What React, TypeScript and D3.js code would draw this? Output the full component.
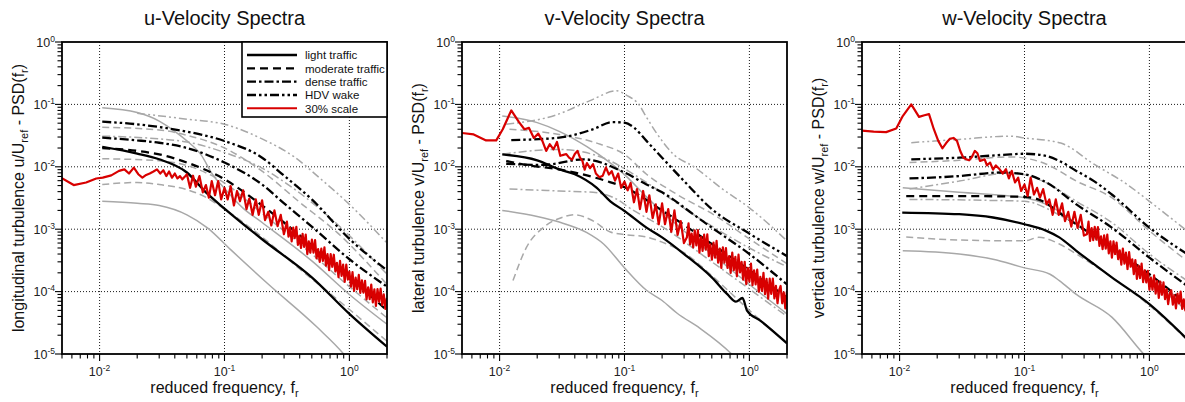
import React from 'react';
import * as d3 from 'd3';

type Pt = [number, number];

// ---------- text ----------
const panelTitles = ['u-Velocity Spectra', 'v-Velocity Spectra', 'w-Velocity Spectra'];
const yLabelPrefix = ['longitudinal turbulence u/U', 'lateral turbulence v/U', 'vertical turbulence w/U'];
const legendLabels = ['light traffic', 'moderate traffic', 'dense traffic', 'HDV wake', '30% scale'];
const xDomain: [number, number] = [0.005, 2];
const yDomain: [number, number] = [1e-5, 1];
const xMajorTicks = [0.01, 0.1, 1];
const xMajorExp = ['-2', '-1', '0'];
const yMajorTicks = [1e-5, 1e-4, 1e-3, 1e-2, 1e-1, 1];
const yMajorExp = ['-5', '-4', '-3', '-2', '-1', '0'];

// ---------- u panel ----------
const uLight: Pt[] = [[0.0105, 0.0208], [0.02, 0.0163], [0.03, 0.0132], [0.05, 0.0081], [0.07, 0.004], [0.1, 0.00214], [0.2, 0.00069], [0.5, 0.000169], [1, 0.000044], [2, 0.0000131]];
const uModerate: Pt[] = [[0.0105, 0.02], [0.02, 0.018], [0.03, 0.0158], [0.05, 0.0117], [0.1, 0.0063], [0.2, 0.0024], [0.5, 0.00055], [1, 0.00017], [2, 0.00005]];
const uDense: Pt[] = [[0.0105, 0.0293], [0.02, 0.0265], [0.03, 0.0243], [0.05, 0.02], [0.1, 0.0117], [0.2, 0.0052], [0.3, 0.0026], [0.5, 0.0011], [1, 0.00033], [2, 0.00012]];
const uHDV: Pt[] = [[0.0105, 0.0528], [0.02, 0.048], [0.03, 0.0434], [0.05, 0.0366], [0.1, 0.0259], [0.2, 0.014], [0.3, 0.0072], [0.5, 0.003], [1, 0.0007], [2, 0.00022]];
const uGreySolidA: Pt[] = [[0.0105, 0.088], [0.02, 0.074], [0.03, 0.054], [0.04, 0.037], [0.05, 0.026], [0.065, 0.0155], [0.08, 0.0076], [0.1, 0.0045], [0.14, 0.0022], [0.2, 0.00128], [0.5, 0.00031], [1, 0.00009], [2, 0.00003]];
const uGreySolidB: Pt[] = [[0.0105, 0.0028], [0.02, 0.0026], [0.03, 0.0024], [0.05, 0.0017], [0.073, 0.00105], [0.112, 0.00047], [0.22, 0.000136], [0.55, 0.000027], [0.9, 0.00001], [1.1, 0.000006]];
const uGreyDashA: Pt[] = [[0.0105, 0.043], [0.03, 0.039], [0.05, 0.032], [0.1, 0.02], [0.2, 0.0085], [0.4, 0.0027], [0.8, 0.00088], [2, 0.00013]];
const uGreyDashB: Pt[] = [[0.0105, 0.0135], [0.03, 0.0125], [0.05, 0.0105], [0.1, 0.0055], [0.2, 0.0018], [0.5, 0.0004], [1, 0.00012], [2, 0.000038]];
const uGreyDashC: Pt[] = [[0.0105, 0.0052], [0.02, 0.0056], [0.03, 0.0052], [0.05, 0.0043], [0.07, 0.0033], [0.1, 0.0021], [0.2, 0.00075], [0.4, 0.00023], [0.8, 0.000075], [2, 0.000016]];
const uGreyDDD: Pt[] = [[0.02, 0.072], [0.05, 0.058], [0.1, 0.048], [0.2, 0.028], [0.36, 0.0145], [0.6, 0.0062], [1, 0.0025], [2, 0.0006]];
const uGreyDD: Pt[] = [[0.0105, 0.031], [0.03, 0.028], [0.05, 0.025], [0.1, 0.017], [0.2, 0.0095], [0.4, 0.0038], [0.8, 0.0012], [2, 0.00019]];

// ---------- v panel ----------
const vLight: Pt[] = [[0.0105, 0.0158], [0.02, 0.0127], [0.03, 0.0091], [0.04, 0.0076], [0.06, 0.0046], [0.077, 0.0028], [0.1, 0.00196], [0.15, 0.00106], [0.2, 0.00074], [0.3, 0.0004], [0.5, 0.000169], [0.665, 0.000091], [0.78, 0.000069], [0.88, 0.000079], [0.96, 0.000049], [1.23, 0.000034], [2, 0.0000148]];
const vModerate: Pt[] = [[0.0113, 0.0124], [0.0164, 0.0107], [0.03, 0.0091], [0.041, 0.008], [0.072, 0.0059], [0.1, 0.0047], [0.2, 0.002], [0.5, 0.00058], [1, 0.00022], [2, 0.00008]];
const vDense: Pt[] = [[0.0113, 0.0112], [0.0223, 0.0107], [0.047, 0.0132], [0.1, 0.0081], [0.15, 0.0052], [0.2, 0.0039], [0.36, 0.0017], [0.5, 0.00106], [1, 0.0004], [2, 0.00013]];
const vHDV: Pt[] = [[0.0124, 0.0268], [0.03, 0.0293], [0.056, 0.04], [0.08, 0.052], [0.1, 0.051], [0.12, 0.042], [0.15, 0.026], [0.2, 0.014], [0.3, 0.0059], [0.5, 0.0021], [1, 0.00085], [2, 0.00037]];
const vGreyDDD: Pt[] = [[0.0113, 0.048], [0.0285, 0.068], [0.053, 0.115], [0.0865, 0.165], [0.104, 0.14], [0.13, 0.1], [0.151, 0.061], [0.18, 0.035], [0.247, 0.0158], [0.36, 0.01], [0.6, 0.0045], [1, 0.0022], [2, 0.00065]];
const vGreySolidA: Pt[] = [[0.0105, 0.065], [0.02, 0.051], [0.03, 0.037], [0.05, 0.021], [0.075, 0.012], [0.1, 0.0075], [0.15, 0.0033], [0.2, 0.0019], [0.5, 0.0004], [1, 0.00013], [2, 0.000044]];
const vGreySolidB: Pt[] = [[0.0105, 0.002], [0.02, 0.0016], [0.03, 0.0013], [0.05, 0.00088], [0.068, 0.00058], [0.1, 0.00024], [0.15, 0.000105], [0.2, 0.000072], [0.264, 0.000045], [0.4, 0.000026], [0.72, 0.00001], [0.85, 0.000007]];
const vGreyDashA: Pt[] = [[0.0128, 0.00015], [0.0164, 0.00051], [0.0223, 0.00106], [0.0304, 0.0015], [0.04, 0.0017], [0.056, 0.00136], [0.077, 0.0009], [0.1, 0.00082], [0.15, 0.00075], [0.2, 0.00062], [0.3, 0.00042], [0.5, 0.00018], [1, 0.00005], [2, 0.000015]];
const vGreyDashB: Pt[] = [[0.012, 0.04], [0.03, 0.033], [0.064, 0.023], [0.1, 0.0158], [0.15, 0.0076], [0.264, 0.0036], [0.52, 0.0017], [1, 0.0007], [2, 0.00028]];
const vGreyDDA: Pt[] = [[0.0106, 0.016], [0.03, 0.019], [0.077, 0.0124], [0.118, 0.0076], [0.19, 0.0041], [0.36, 0.0017], [1, 0.0005], [2, 0.00025]];
const vGreyDDB: Pt[] = [[0.012, 0.0044], [0.03, 0.0041], [0.056, 0.0039], [0.082, 0.0032], [0.118, 0.002], [0.2, 0.0011], [0.5, 0.0003], [1, 0.00011], [2, 0.00004]];

// ---------- w panel ----------
const wLight: Pt[] = [[0.0105, 0.00185], [0.03, 0.00174], [0.056, 0.00154], [0.1, 0.0012], [0.15, 0.00094], [0.19, 0.00074], [0.26, 0.00045], [0.36, 0.000275], [0.5, 0.000169], [1, 0.000063], [2, 0.0000174]];
const wModerate: Pt[] = [[0.0113, 0.0034], [0.03, 0.0034], [0.1, 0.0033], [0.14, 0.0028], [0.2, 0.0017], [0.5, 0.00051], [1, 0.00019], [2, 0.000063]];
const wDense: Pt[] = [[0.012, 0.0065], [0.03, 0.0071], [0.064, 0.0081], [0.1, 0.0076], [0.15, 0.0056], [0.26, 0.0025], [0.5, 0.00106], [1, 0.00035], [2, 0.000124]];
const wHDV: Pt[] = [[0.0124, 0.0132], [0.03, 0.014], [0.077, 0.0158], [0.1, 0.0162], [0.15, 0.0149], [0.19, 0.0124], [0.26, 0.0086], [0.36, 0.0059], [0.5, 0.0036], [1, 0.00106], [2, 0.0004]];
const wGreyDDD: Pt[] = [[0.0124, 0.0244], [0.03, 0.0275], [0.077, 0.031], [0.1, 0.029], [0.195, 0.024], [0.36, 0.011], [0.665, 0.0052], [1, 0.0028], [2, 0.00094]];
const wGreyDashA: Pt[] = [[0.012, 0.0117], [0.03, 0.0127], [0.077, 0.0144], [0.15, 0.011], [0.26, 0.0059], [0.5, 0.0032], [1, 0.00094], [2, 0.00031]];
const wGreyDDA: Pt[] = [[0.012, 0.0044], [0.03, 0.0059], [0.077, 0.008], [0.14, 0.0059], [0.26, 0.0028], [0.5, 0.00128], [1, 0.0004], [2, 0.00015]];
const wGreySolidA: Pt[] = [[0.0106, 0.0046], [0.03, 0.0039], [0.1, 0.0032], [0.15, 0.0025], [0.2, 0.0018], [0.36, 0.00074], [0.5, 0.00045], [1, 0.00016], [2, 0.000049]];
const wGreyDashB: Pt[] = [[0.0113, 0.00075], [0.03, 0.00067], [0.1, 0.00065], [0.13, 0.00074], [0.19, 0.00058], [0.26, 0.0004], [0.5, 0.00017], [1, 0.00006], [2, 0.000017]];
const wGreySolidB: Pt[] = [[0.0106, 0.00045], [0.03, 0.0004], [0.056, 0.00033], [0.1, 0.00024], [0.16, 0.00019], [0.19, 0.00015], [0.26, 0.00009], [0.5, 0.000039], [0.9, 0.00001], [1.0, 0.000008]];
const wGreyDDB: Pt[] = [[0.012, 0.003], [0.05, 0.0029], [0.1, 0.0028], [0.2, 0.0016], [0.5, 0.0005], [1, 0.00018], [2, 0.00006]];

// ---------- 30% scale (red) ----------
const redFreq = [
  0.0049, 0.0062, 0.0078, 0.0094, 0.0106, 0.0124, 0.0143, 0.0158, 0.0172, 0.0188, 0.0204, 0.022, 0.0236, 0.0252, 0.027, 0.0288, 0.0306, 0.0324, 0.0342, 0.036, 0.038, 0.04, 0.042, 0.044, 0.046, 0.048,
  0.05, 0.053, 0.056, 0.059, 0.063, 0.067, 0.071, 0.075, 0.079, 0.084, 0.089, 0.094, 0.1, 0.106, 0.112, 0.119, 0.126, 0.133, 0.141, 0.15,
  0.158, 0.168, 0.178, 0.188, 0.2, 0.211, 0.224, 0.237, 0.251, 0.266, 0.282, 0.299,
  0.316, 0.3255, 0.335, 0.345, 0.355, 0.365, 0.376, 0.387, 0.398, 0.41, 0.422, 0.434, 0.447, 0.46, 0.473, 0.487,
  0.501, 0.516, 0.531, 0.546, 0.562, 0.579, 0.596, 0.613, 0.631, 0.649, 0.668, 0.688, 0.708, 0.729, 0.75, 0.772,
  0.794, 0.818, 0.841, 0.866, 0.891, 0.917, 0.944, 0.972, 1.0, 1.029, 1.059, 1.09, 1.122, 1.155, 1.189, 1.223,
  1.259, 1.296, 1.334, 1.372, 1.413, 1.454, 1.496, 1.54, 1.585, 1.631, 1.679, 1.728, 1.778, 1.83, 1.884, 1.939, 1.995,
];
const redU = [
  0.0067, 0.0051, 0.0056, 0.0065, 0.0067, 0.0073, 0.0086, 0.0091, 0.0078, 0.0097, 0.0076, 0.0067, 0.0074, 0.0078, 0.0084, 0.0091, 0.0078, 0.0088, 0.0071, 0.0084, 0.0067, 0.0078, 0.0065, 0.0071, 0.0063, 0.0069,
  0.0076, 0.0046, 0.0072, 0.0048, 0.0071, 0.0039, 0.0051, 0.0032, 0.0059, 0.0035, 0.0059, 0.003, 0.0046, 0.003, 0.0049, 0.0024, 0.0041, 0.0028, 0.0042, 0.0021,
  0.0031, 0.0017, 0.003, 0.0017, 0.0029, 0.0014, 0.0019, 0.00115, 0.002, 0.00112, 0.0017, 0.00083,
  0.00132, 0.00076, 0.00105, 0.00064, 0.00106, 0.00072, 0.00109, 0.00056, 0.00078, 0.0005, 0.00084, 0.00052, 0.00082, 0.0004, 0.00064, 0.00042,
  0.00068, 0.00042, 0.00067, 0.00034, 0.00048, 0.0003, 0.00049, 0.00031, 0.00051, 0.00026, 0.0004, 0.00022, 0.0004, 0.00025, 0.00039, 0.00021,
  0.00029, 0.000171, 0.00031, 0.000178, 0.00027, 0.000143, 0.00027, 0.000156, 0.00021, 0.00012, 0.000206, 0.000103, 0.000168, 0.000109, 0.000186, 0.000095,
  0.000152, 0.000096, 0.000149, 0.000075, 0.000117, 0.000076, 0.000129, 0.000067, 0.000109, 0.000059, 0.00011, 0.000069, 0.000112, 0.000061, 0.00009, 0.000053, 0.000079,
];
const redV = [
  0.035, 0.033, 0.0265, 0.0265, 0.04, 0.08, 0.052, 0.04, 0.042, 0.029, 0.034, 0.026, 0.018, 0.023, 0.019, 0.025, 0.015, 0.0155, 0.016, 0.014, 0.013, 0.016, 0.018, 0.014, 0.0125, 0.009,
  0.0115, 0.0095, 0.011, 0.0078, 0.0068, 0.0072, 0.0098, 0.0075, 0.0085, 0.006, 0.0078, 0.0046, 0.0058, 0.0042, 0.0055, 0.0027, 0.0044, 0.0021, 0.0041, 0.0019,
  0.0035, 0.0015, 0.0025, 0.0012, 0.0026, 0.0012, 0.0021, 0.00091, 0.002, 0.00081, 0.00135, 0.0006,
  0.00074, 0.00124, 0.00057, 0.00085, 0.00051, 0.00096, 0.00055, 0.00097, 0.00042, 0.00075, 0.00045, 0.00082, 0.00047, 0.00083, 0.00037, 0.00057,
  0.000325, 0.00061, 0.00035, 0.00065, 0.00029, 0.00049, 0.00024, 0.00051, 0.00029, 0.0005, 0.00024, 0.00037, 0.0002, 0.00042, 0.00022, 0.00036,
  0.000176, 0.00039, 0.000203, 0.0003, 0.000155, 0.0003, 0.000132, 0.00024, 0.000145, 0.00028, 0.000127, 0.00022, 0.000131, 0.000225, 0.0001, 0.000172,
  0.000103, 0.000199, 0.000091, 0.00016, 0.000077, 0.000161, 0.000092, 0.000162, 0.000078, 0.000124, 0.000065, 0.000105, 0.000123, 0.000065, 0.000097, 0.000054, 0.0001,
];
const redW = [
  0.038, 0.0365, 0.036, 0.041, 0.065, 0.1, 0.063, 0.067, 0.07, 0.04, 0.026, 0.0198, 0.024, 0.028, 0.029, 0.026, 0.0179, 0.014, 0.0132, 0.0127, 0.0145, 0.018, 0.0165, 0.0124, 0.0128, 0.0132,
  0.0105, 0.0117, 0.009, 0.0105, 0.0092, 0.0078, 0.0092, 0.0065, 0.0086, 0.0056, 0.0067, 0.0041, 0.0052, 0.0034, 0.0067, 0.0036, 0.0046, 0.0032, 0.0044, 0.0025,
  0.003, 0.0017, 0.003, 0.0017, 0.0026, 0.00135, 0.0019, 0.0011, 0.0019, 0.00105, 0.0017, 0.00079,
  0.00083, 0.00132, 0.00065, 0.00104, 0.00067, 0.00109, 0.00068, 0.00108, 0.00054, 0.00077, 0.00048, 0.0008, 0.00049, 0.00082, 0.00041, 0.00064,
  0.00035, 0.00064, 0.0004, 0.00061, 0.00033, 0.00046, 0.00027, 0.00049, 0.00028, 0.00042, 0.00023, 0.00043, 0.00025, 0.00033, 0.00019, 0.00032,
  0.00016, 0.00026, 0.000165, 0.00028, 0.000142, 0.00022, 0.00014, 0.000215, 0.000107, 0.000166, 0.000107, 0.000182, 0.000093, 0.000148, 0.000079, 0.000145,
  0.000089, 0.000141, 0.000076, 0.00011, 0.000063, 0.000093, 0.000105, 0.000062, 0.000088, 0.000054, 0.000093, 0.000065, 0.0001, 0.000053, 0.000075, 0.00005, 0.000085,
];

// ---------- styling ----------
type LineStyle = 'solid' | 'dashed' | 'dashdot' | 'dashdotdot';
const blackDash: Record<LineStyle, string | undefined> = {
  solid: undefined,
  dashed: '8,5',
  dashdot: '9,3,2.5,3',
  dashdotdot: '9,3,2.5,3,2.5,3',
};
const greyDash: Record<LineStyle, string | undefined> = {
  solid: undefined,
  dashed: '7,4',
  dashdot: '8,3,2,3',
  dashdotdot: '8,3,2,3,2,3',
};
const BLACK = '#000000';
const GREY = '#a8a8a8';
const RED = '#d80000';
const FONT = "'Liberation Sans', Arial, Helvetica, sans-serif";

interface Series { data: Pt[]; style: LineStyle; }
interface PanelDef { black: Series[]; grey: Series[]; red: number[]; }

const panels: PanelDef[] = [
  {
    black: [
      { data: uLight, style: 'solid' }, { data: uModerate, style: 'dashed' },
      { data: uDense, style: 'dashdot' }, { data: uHDV, style: 'dashdotdot' },
    ],
    grey: [
      { data: uGreySolidA, style: 'solid' }, { data: uGreySolidB, style: 'solid' },
      { data: uGreyDashA, style: 'dashed' }, { data: uGreyDashB, style: 'dashed' }, { data: uGreyDashC, style: 'dashed' },
      { data: uGreyDDD, style: 'dashdotdot' }, { data: uGreyDD, style: 'dashdot' },
    ],
    red: redU,
  },
  {
    black: [
      { data: vLight, style: 'solid' }, { data: vModerate, style: 'dashed' },
      { data: vDense, style: 'dashdot' }, { data: vHDV, style: 'dashdotdot' },
    ],
    grey: [
      { data: vGreyDDD, style: 'dashdotdot' }, { data: vGreySolidA, style: 'solid' }, { data: vGreySolidB, style: 'solid' },
      { data: vGreyDashA, style: 'dashed' }, { data: vGreyDashB, style: 'dashed' },
      { data: vGreyDDA, style: 'dashdot' }, { data: vGreyDDB, style: 'dashdot' },
    ],
    red: redV,
  },
  {
    black: [
      { data: wLight, style: 'solid' }, { data: wModerate, style: 'dashed' },
      { data: wDense, style: 'dashdot' }, { data: wHDV, style: 'dashdotdot' },
    ],
    grey: [
      { data: wGreyDDD, style: 'dashdotdot' }, { data: wGreyDashA, style: 'dashed' }, { data: wGreyDDA, style: 'dashdot' },
      { data: wGreySolidA, style: 'solid' }, { data: wGreyDashB, style: 'dashed' }, { data: wGreySolidB, style: 'solid' },
      { data: wGreyDDB, style: 'dashdot' },
    ],
    red: redW,
  },
];

const W = 1185;
const H = 402;
const plotW = 325;
const plotTop = 42;
const plotBottom = 354;
const panelLeft = [62, 462, 862];

function isMajor(v: number) {
  const l = Math.log10(v);
  return Math.abs(l - Math.round(l)) < 1e-6;
}

function Legend({ right, top }: { right: number; top: number }) {
  const w = 145;
  const h = 75;
  const left = right - w;
  const styles: LineStyle[] = ['solid', 'dashed', 'dashdot', 'dashdotdot', 'solid'];
  const rowY = d3.scaleLinear().domain([0, 4]).range([top + 13, top + 66.3]);
  return (
    <g>
      <rect x={left} y={top} width={w} height={h} fill="#fff" stroke="#000" strokeWidth={1.6} />
      {legendLabels.map((lab, i) => (
        <g key={lab}>
          <line x1={left + 5} x2={left + 55} y1={rowY(i)} y2={rowY(i)} stroke={i === 4 ? RED : BLACK}
            strokeWidth={i === 4 ? 2 : 2.3} strokeDasharray={i === 4 ? undefined : blackDash[styles[i]]} />
          <text x={left + 63} y={rowY(i) + 4.2} fontSize={11.5} fontFamily={FONT} fill="#111">{lab}</text>
        </g>
      ))}
    </g>
  );
}

function Panel({ idx }: { idx: number }) {
  const L = panelLeft[idx];
  const R = L + plotW;
  const def = panels[idx];
  const x = d3.scaleLog().domain(xDomain).range([L, R]);
  const y = d3.scaleLog().domain(yDomain).range([plotBottom, plotTop]);
  const smooth = d3.line<Pt>().x((d) => x(d[0])).y((d) => y(d[1])).curve(d3.curveMonotoneX);
  const raw = d3.line<Pt>().x((d) => x(d[0])).y((d) => y(d[1]));
  const redPts: Pt[] = redFreq.map((f, i) => [f, def.red[i]]);
  const clipId = `clip${idx}`;
  const cx = L + plotW / 2;
  const cy = (plotTop + plotBottom) / 2;

  return (
    <g>
      <defs>
        <clipPath id={clipId}>
          <rect x={L} y={plotTop} width={plotW} height={plotBottom - plotTop} />
        </clipPath>
      </defs>
      <text x={cx} y={25} textAnchor="middle" fontSize={20} fontFamily={FONT} fill="#111">{panelTitles[idx]}</text>
      {xMajorTicks.map((t) => (
        <line key={'gx' + t} x1={x(t)} x2={x(t)} y1={plotTop} y2={plotBottom} stroke="#000" strokeWidth={0.9} strokeDasharray="1,2" />
      ))}
      {yMajorTicks.slice(1, -1).map((t) => (
        <line key={'gy' + t} x1={L} x2={R} y1={y(t)} y2={y(t)} stroke="#000" strokeWidth={0.9} strokeDasharray="1,2" />
      ))}
      <g clipPath={`url(#${clipId})`}>
        {def.grey.map((s, i) => (
          <path key={'g' + i} d={smooth(s.data) || ''} fill="none" stroke={GREY} strokeWidth={1.5} strokeDasharray={greyDash[s.style]} />
        ))}
        {def.black.map((s, i) => (
          <path key={'b' + i} d={smooth(s.data) || ''} fill="none" stroke={BLACK} strokeWidth={2.3} strokeDasharray={blackDash[s.style]} />
        ))}
        <path d={raw(redPts) || ''} fill="none" stroke={RED} strokeWidth={2.2} strokeLinejoin="round" />
      </g>
      <rect x={L} y={plotTop} width={plotW} height={plotBottom - plotTop} fill="none" stroke="#000" strokeWidth={1.8} />
      {x.ticks().map((t, i) => (
        <line key={'tx' + i} x1={x(t)} x2={x(t)} y1={plotBottom} y2={plotBottom + (isMajor(t) ? 7 : 4.5)} stroke="#000" strokeWidth={1.1} />
      ))}
      {y.ticks().map((t, i) => (
        <line key={'ty' + i} x1={L} x2={L - (isMajor(t) ? 7 : 4.5)} y1={y(t)} y2={y(t)} stroke="#000" strokeWidth={1.1} />
      ))}
      {xMajorTicks.map((t, i) => (
        <text key={'lx' + t} x={x(t)} y={376} textAnchor="middle" fontSize={12.5} fontFamily={FONT} fill="#222">
          <tspan>10</tspan>
          <tspan dy={-5} fontSize={8.5}>{xMajorExp[i]}</tspan>
        </text>
      ))}
      {yMajorTicks.map((t, i) => (
        <text key={'ly' + t} x={L - 7} y={y(t) + 4.5} textAnchor="end" fontSize={12.5} fontFamily={FONT} fill="#222">
          <tspan>10</tspan>
          <tspan dy={-5} fontSize={8.5}>{yMajorExp[i]}</tspan>
        </text>
      ))}
      <text x={cx} y={393} textAnchor="middle" fontSize={16} fontFamily={FONT} fill="#111">
        <tspan>reduced frequency, f</tspan>
        <tspan dy={4} fontSize={11}>r</tspan>
      </text>
      <text transform={`translate(${L - 38},${cy}) rotate(-90)`} textAnchor="middle" fontSize={16} fontFamily={FONT} fill="#111">
        <tspan>{yLabelPrefix[idx]}</tspan>
        <tspan dy={4} fontSize={11}>ref</tspan>
        <tspan dy={-4}> - PSD(f</tspan>
        <tspan dy={4} fontSize={11}>r</tspan>
        <tspan dy={-4}>)</tspan>
      </text>
      {idx === 0 && <Legend right={R} top={plotTop} />}
    </g>
  );
}

export default function App() {
  return (
    <svg width={W} height={H} viewBox={`0 0 ${W} ${H}`} style={{ position: 'absolute', left: 0, top: 0, background: '#fff' }}>
      <rect x={0} y={0} width={W} height={H} fill="#fff" />
      {[0, 1, 2].map((i) => <Panel key={i} idx={i} />)}
    </svg>
  );
}
